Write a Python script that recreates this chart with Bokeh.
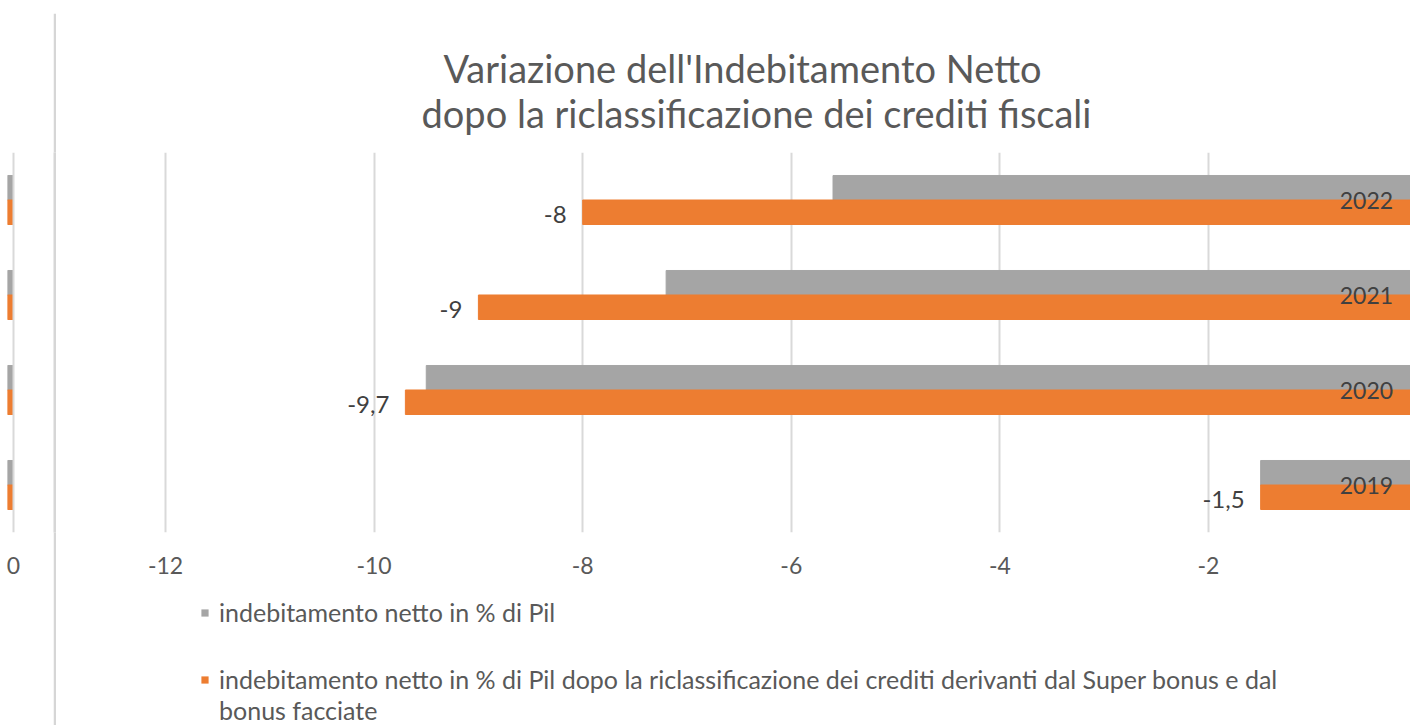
from bokeh.plotting import figure
from bokeh.models import (ColumnDataSource, Range1d, FactorRange, FixedTicker, Span,
                          Legend, LegendItem, Label, Spacer)
from bokeh.layouts import row, column
from bokeh.transform import dodge
from bokeh.embed import file_html
from bokeh.resources import INLINE
from bokeh.core.properties import value

# ---------------- data ----------------
years = ["2019", "2020", "2021", "2022"]
indebitamento = [-1.5, -9.5, -7.2, -5.6]
dopo_riclassificazione = [-1.5, -9.7, -9.0, -8.0]
x_ticks = [-12, -10, -8, -6, -4, -2, 0]
series_names = [
    "indebitamento netto in % di Pil",
    "indebitamento netto in % di Pil dopo la riclassificazione dei crediti derivanti dal Super bonus e dal",
    "bonus facciate",
]
title_lines = ["Variazione dell'Indebitamento Netto",
               "dopo la riclassificazione dei crediti fiscali"]

labels = [("%g" % v).replace(".", ",") for v in dopo_riclassificazione]
zeros = [0] * len(years)
tick_text = {t: str(t) for t in x_ticks}

source = ColumnDataSource(dict(year=years, grey=indebitamento, orange=dopo_riclassificazione,
                               label=labels, zero=zeros))

# ---------------- style ----------------
GREY = "#a5a5a5"
ORANGE = "#ed7d31"
GRID = "#d9d9d9"
TXT = "#595959"
DARK = "#404040"
FONT = "Lato"
PX_PER_UNIT = 104.3
BAR_H = 0.258
OFF = 0.129

PAGE_W = 1410
EDGE = 7
TOP_GAP = 10
LINE_H = 3
ROW_H = 725 - TOP_GAP - LINE_H      # 712
TITLE_H = 139
FRAME_H = 380
AXIS_H = 60
LEG_H = ROW_H - TITLE_H - FRAME_H - AXIS_H

LEFT_W = 53
DIV_W = 3
MAIN_W = PAGE_W - LEFT_W - DIV_W   # 1354


def style_xaxis(fig):
    fig.xaxis.ticker = FixedTicker(ticks=x_ticks)
    fig.xaxis.major_label_overrides = tick_text
    fig.xaxis.axis_line_color = None
    fig.xaxis.major_tick_line_color = None
    fig.xaxis.minor_tick_line_color = None
    fig.xaxis.major_label_standoff = 18
    fig.xaxis.major_label_text_font = FONT
    fig.xaxis.major_label_text_font_size = "23px"
    fig.xaxis.major_label_text_color = TXT


def plain(fig, color):
    fig.outline_line_color = None
    fig.background_fill_color = color
    fig.border_fill_color = color
    fig.grid.visible = False


# ---------------- top line ----------------
top_line = figure(width=PAGE_W - EDGE, height=LINE_H, toolbar_location=None,
                  output_backend="svg", x_axis_location=None, y_axis_location=None,
                  min_border=0, x_range=Range1d(0, 1), y_range=Range1d(0, 1))
plain(top_line, "#e4e4e4")

# ---------------- left fragment (neighbouring chart) ----------------
zero_left_px = 13
left = figure(width=LEFT_W, height=ROW_H, toolbar_location=None, output_backend="svg",
              y_range=FactorRange(factors=years, range_padding=0),
              x_range=Range1d(-(zero_left_px - EDGE) / PX_PER_UNIT,
                              (LEFT_W - zero_left_px) / PX_PER_UNIT),
              y_axis_location=None,
              min_border_left=EDGE, min_border_right=0,
              min_border_top=TITLE_H, min_border_bottom=ROW_H - TITLE_H - FRAME_H)
left.outline_line_color = None
left.grid.visible = False
left.hbar(y=dodge("year", OFF, range=left.y_range), left="grey", right="zero", height=BAR_H,
          source=source, color=GREY)
left.hbar(y=dodge("year", -OFF, range=left.y_range), left="orange", right="zero", height=BAR_H,
          source=source, color=ORANGE)
left.add_layout(Span(location=0, dimension="height", line_color=GRID, line_width=2))
style_xaxis(left)

# ---------------- divider ----------------
divider = figure(width=DIV_W, height=ROW_H, toolbar_location=None, output_backend="svg",
                 x_axis_location=None, y_axis_location=None, min_border=0,
                 x_range=Range1d(0, 1), y_range=Range1d(0, 1))
plain(divider, "#d6d6d6")

# ---------------- title block ----------------
tf = figure(width=MAIN_W, height=TITLE_H, toolbar_location=None, output_backend="svg",
            x_axis_location=None, y_axis_location=None, min_border=0,
            x_range=Range1d(0, 1), y_range=Range1d(0, 1))
plain(tf, "white")
for txt, cx, base in ((title_lines[0], 685, 85), (title_lines[1], 699, 40)):
    tf.add_layout(Label(x=cx, y=base, x_units="screen", y_units="screen", text=txt,
                        text_align="center", text_baseline="alphabetic",
                        text_font=FONT, text_font_size="38px", text_color=TXT))

# ---------------- main chart ----------------
frame_left_img = LEFT_W + DIV_W + 1
zero_img = 1416.6
x_start = (frame_left_img - zero_img) / PX_PER_UNIT
x_end = (PAGE_W - zero_img) / PX_PER_UNIT

p = figure(width=MAIN_W, height=FRAME_H + AXIS_H, toolbar_location=None, output_backend="svg",
           y_range=FactorRange(factors=years, range_padding=0),
           x_range=Range1d(x_start, x_end),
           y_axis_location=None,
           min_border_left=1, min_border_right=0,
           min_border_top=0, min_border_bottom=AXIS_H)
p.outline_line_color = None

p.xgrid.ticker = FixedTicker(ticks=x_ticks)
p.xgrid.grid_line_color = GRID
p.xgrid.grid_line_width = 2
p.ygrid.grid_line_color = None
style_xaxis(p)

p.hbar(y=dodge("year", OFF, range=p.y_range), left="grey", right="zero", height=BAR_H,
       source=source, color=GREY)
p.hbar(y=dodge("year", -OFF, range=p.y_range), left="orange", right="zero",
       height=BAR_H, source=source, color=ORANGE)

# data labels (orange series)
p.text(x="orange", y=dodge("year", -OFF, range=p.y_range), text="label", source=source,
       x_offset=-16, y_offset=2, text_align="right", text_baseline="middle",
       text_font=value(FONT), text_font_size="24px", text_color=DARK)

# category labels next to the zero axis
p.text(x="zero", y="year", text="year", source=source,
       x_offset=-24, text_align="right", text_baseline="middle",
       text_font=value(FONT), text_font_size="23px", text_color=DARK)

# ---------------- legend block ----------------
# series renderers from the same data, kept outside the visible range (legend swatches only)
lf = figure(width=MAIN_W, height=LEG_H, toolbar_location=None, output_backend="svg",
            x_axis_location=None, y_axis_location=None, min_border=0,
            y_range=FactorRange(factors=years), x_range=Range1d(100, 101))
plain(lf, "white")
lg_grey = lf.hbar(y="year", left="grey", right="zero", height=0, source=source,
                  fill_color=GREY, line_color=None)
lg_orange = lf.hbar(y="year", left="orange", right="zero", height=0, source=source,
                    fill_color=ORANGE, line_color=None)
lg_blank = lf.scatter(x="zero", y="year", source=source, size=0, alpha=0)

legend1 = Legend(items=[LegendItem(label=series_names[0], renderers=[lg_grey])],
                 location=(143, 98))
legend2 = Legend(items=[LegendItem(label=series_names[1], renderers=[lg_orange]),
                        LegendItem(label=series_names[2], renderers=[lg_blank])],
                 location=(143, 0), spacing=1)
for lg in (legend1, legend2):
    lg.padding = 0
    lg.margin = 0
    lg.label_height = 30
    lg.glyph_width = 9
    lg.glyph_height = 9
    lg.label_standoff = 10
    lg.border_line_color = None
    lg.background_fill_alpha = 0
    lg.label_text_font = FONT
    lg.label_text_font_size = "25px"
    lg.label_text_color = TXT
    lf.add_layout(lg)

layout = column(Spacer(width=PAGE_W, height=TOP_GAP),
                row(Spacer(width=EDGE, height=LINE_H), top_line, spacing=0),
                row(left, divider, column(tf, p, lf, spacing=0), spacing=0), spacing=0)

open("out.html", "w").write(file_html(layout, INLINE))
